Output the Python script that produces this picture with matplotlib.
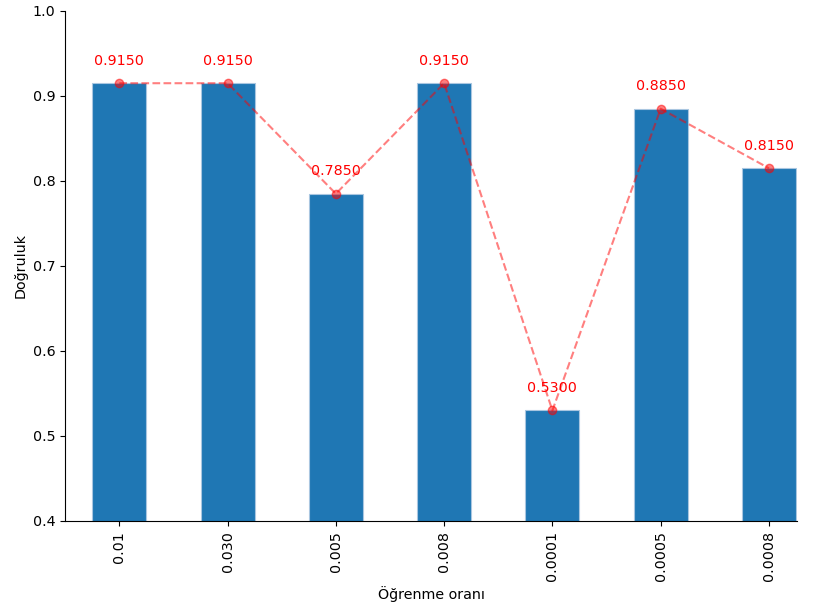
import matplotlib
matplotlib.use("Agg")
import matplotlib.pyplot as plt
import numpy as np

# learning rates (tick labels) and the accuracy reached with each
learning_rates = ["0.01", "0.030", "0.005", "0.008", "0.0001", "0.0005", "0.0008"]
accuracy = [0.915, 0.915, 0.785, 0.915, 0.530, 0.885, 0.815]

plt.rcParams["font.size"] = 10.3

fig = plt.figure(figsize=(8.15, 6.09), dpi=100)
ax = fig.add_axes([0.08, 0.1445, 0.898, 0.8375])

x = np.arange(len(learning_rates))
ax.bar(x, accuracy, width=0.5, color="#1f77b4", edgecolor="#a9c6e0", linewidth=0.8)
ax.plot(x, accuracy, color="red", linestyle="--", marker="o", alpha=0.5)

for xi, acc in zip(x, accuracy):
    ax.text(xi, acc + 0.018, f"{acc:.4f}", color="red", ha="center", va="bottom")

ax.set_xticks(x)
ax.set_xticklabels(learning_rates, rotation=90)
ax.set_xlim(-0.5, len(learning_rates) - 0.74)
ax.set_ylim(0.4, 1.0)
ax.set_xlabel("Öğrenme oranı", labelpad=4)
ax.set_ylabel("Doğruluk", labelpad=4)
ax.spines["top"].set_visible(False)
ax.spines["right"].set_visible(False)

fig.savefig("out.png", dpi=100)
